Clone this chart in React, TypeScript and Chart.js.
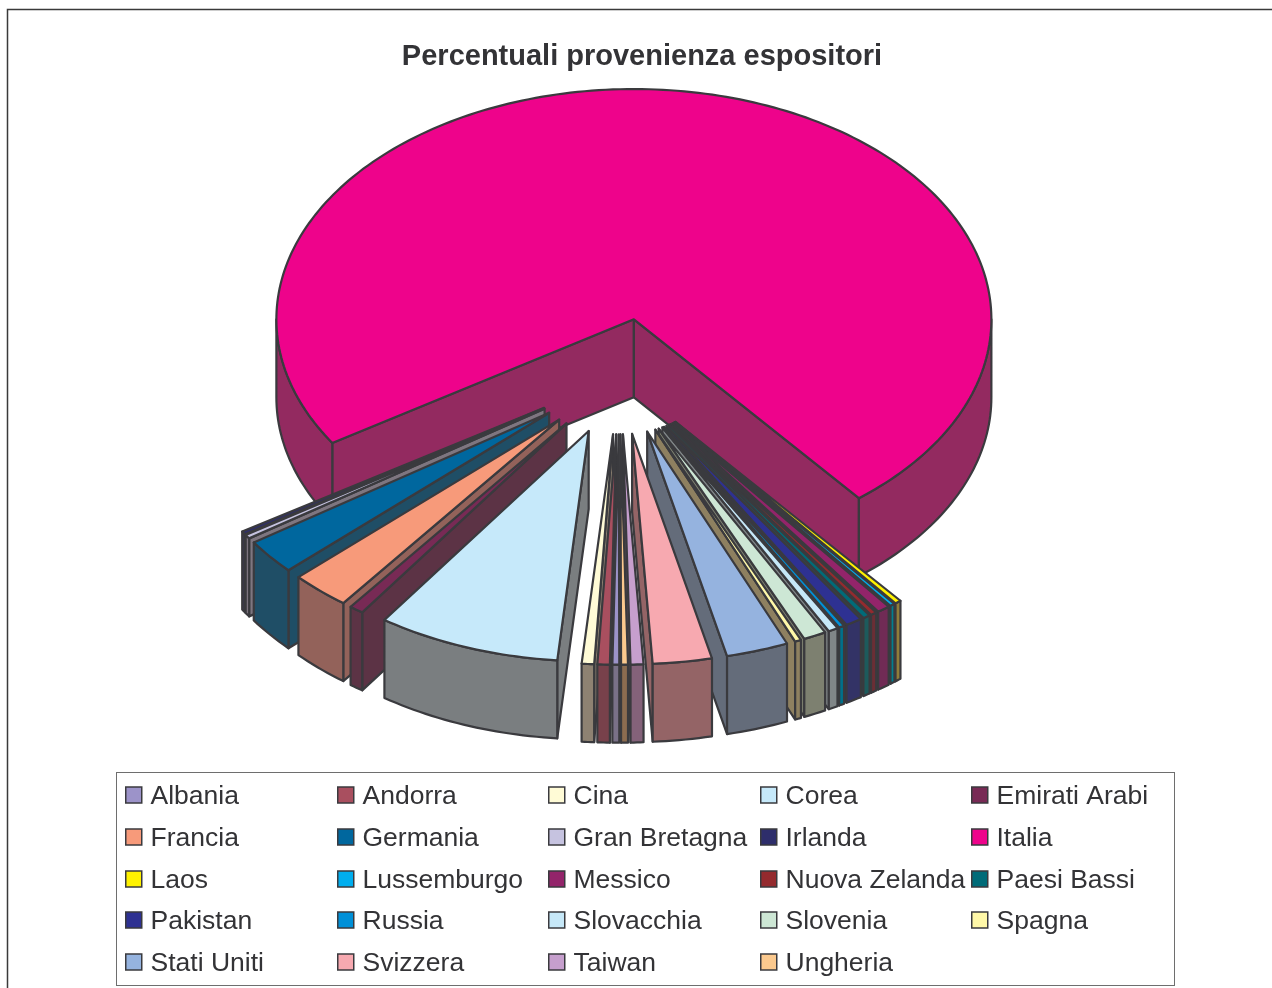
import React, { useEffect, useRef } from "react";
import { Chart, registerables } from "chart.js";

Chart.register(...registerables);

const categories = [
  "Albania", "Andorra", "Cina", "Corea", "Emirati Arabi",
  "Francia", "Germania", "Gran Bretagna", "Irlanda", "Italia",
  "Laos", "Lussemburgo", "Messico", "Nuova Zelanda", "Paesi Bassi",
  "Pakistan", "Russia", "Slovacchia", "Slovenia", "Spagna",
  "Stati Uniti", "Svizzera", "Taiwan", "Ungheria",
];

const percentages = [
  0.31, 0.56, 0.56, 8.28, 0.64,
  2.69, 2.47, 0.28, 0.22, 73.2,
  0.28, 0.22, 0.58, 0.28, 0.33,
  0.75, 0.25, 0.44, 1.03, 0.28,
  2.81, 2.67, 0.58, 0.31,
];

const topColours = [
  "#9C93C9", "#A94F5F", "#FFFBD6", "#C6E9FA", "#782A55",
  "#F79A7A", "#00679E", "#C6C3E0", "#2E2E6B", "#EE038B",
  "#FFF200", "#00AEEF", "#93246A", "#942A2E", "#006B78",
  "#2E3192", "#0090D8", "#C6E8F8", "#CDE7D5", "#FFF8A8",
  "#95B3DF", "#F7A9B0", "#C69FCD", "#FBC98E",
];

const wallColours = [
  "#7A7188", "#78414B", "#8E8272", "#7A7E80", "#5C3345",
  "#93625A", "#1F4E66", "#7E7680", "#3C3A55", "#932A60",
  "#8F7D3A", "#007F90", "#702B55", "#6B2E35", "#1D5B5C",
  "#333366", "#00708A", "#808688", "#7D8070", "#8E8060",
  "#646C7A", "#946466", "#84627A", "#8C6C50",
];

const titleText = "Percentuali provenienza espositori";

// Pie projection
const CX = 619.4;
const CY = 376.5;
const SQUASH = 0.644;
const EXPLODE = 90;
const DEPTH = 78;
const RADIUS = 357.5;
const EDGE = "#3A3A3E";

// Legend layout
const LEG = { x: 116.5, y: 772.5, w: 1058, h: 213 };
const LEG_COLS = [125, 337, 548, 760, 971];
const LEG_ROWS = [795, 837, 879, 920, 962];

type Pt = [number, number];

function poly(ctx: CanvasRenderingContext2D, pts: Pt[], fill: string) {
  ctx.beginPath();
  pts.forEach((p, i) => (i ? ctx.lineTo(p[0], p[1]) : ctx.moveTo(p[0], p[1])));
  ctx.closePath();
  ctx.fillStyle = fill;
  ctx.fill();
  ctx.stroke();
}

const pie3d = {
  id: "pie3d",
  beforeDatasetsDraw(chart: any) {
    const ctx: CanvasRenderingContext2D = chart.ctx;
    const arcs: any[] = chart.getDatasetMeta(0).data;
    const TAU = Math.PI * 2;
    const mid = (a: any) => (a.startAngle + a.endAngle) / 2;
    const dist = (a: any) => {
      const m = mid(a) % TAU;
      return Math.abs(Math.atan2(Math.sin(m), Math.cos(m)) - Math.PI / 2);
    };
    const order = arcs.map((a, i) => ({ a, i })).sort((p, q) => dist(q.a) - dist(p.a));

    ctx.save();
    ctx.strokeStyle = EDGE;
    ctx.lineWidth = 2.2;
    ctx.lineJoin = "round";
    for (const { a, i } of order) {
      const m = mid(a);
      const R = a.outerRadius;
      const tx = CX + EXPLODE * Math.cos(m);
      const ty = CY + SQUASH * EXPLODE * Math.sin(m);
      const P = (t: number, dy = 0): Pt => [tx + R * Math.cos(t), ty + SQUASH * R * Math.sin(t) + dy];
      const s = a.startAngle;
      const e = a.endAngle;
      const wall = wallColours[i];
      const arcPts = (lo: number, hi: number, dy = 0) => {
        const n = Math.max(4, Math.ceil((hi - lo) / 0.02));
        const out: Pt[] = [];
        for (let j = 0; j <= n; j++) out.push(P(lo + ((hi - lo) * j) / n, dy));
        return out;
      };
      // radial faces
      if (Math.cos(s) < 0) {
        poly(ctx, [[tx, ty], P(s), P(s, DEPTH), [tx, ty + DEPTH]], wall);
      }
      if (Math.cos(e) > 0) {
        poly(ctx, [[tx, ty], P(e), P(e, DEPTH), [tx, ty + DEPTH]], wall);
      }
      // outer rim
      for (let k = 0; k < 3; k++) {
        const lo = Math.max(s, TAU * k);
        const hi = Math.min(e, TAU * k + Math.PI);
        if (hi > lo) {
          poly(ctx, [...arcPts(lo, hi), ...arcPts(lo, hi, DEPTH).reverse()], wall);
        }
      }
      // top face, drawn by the arc element itself
      ctx.save();
      ctx.translate(tx, ty);
      ctx.scale(1, SQUASH);
      ctx.translate(-a.x, -a.y);
      a.draw(ctx, chart.chartArea);
      ctx.restore();
      ctx.beginPath();
      ctx.moveTo(tx, ty);
      arcPts(s, e).forEach((p) => ctx.lineTo(p[0], p[1]));
      ctx.closePath();
      ctx.stroke();
    }
    ctx.restore();
    return false;
  },
};

const frameAndLegend = {
  id: "frameAndLegend",
  afterDraw(chart: any) {
    const ctx: CanvasRenderingContext2D = chart.ctx;
    ctx.save();
    // chart frame
    ctx.strokeStyle = "#3A3A3A";
    ctx.lineWidth = 1.5;
    ctx.beginPath();
    ctx.moveTo(7.5, 988);
    ctx.lineTo(7.5, 9.5);
    ctx.lineTo(1272, 9.5);
    ctx.stroke();
    // legend box
    ctx.strokeStyle = "#6E6E6E";
    ctx.lineWidth = 1;
    ctx.strokeRect(LEG.x, LEG.y, LEG.w, LEG.h);
    // legend entries
    ctx.font = "26.5px 'Liberation Sans'";
    ctx.textBaseline = "middle";
    ctx.textAlign = "left";
    const labels: string[] = chart.data.labels;
    const bg: string[] = chart.data.datasets[0].backgroundColor;
    labels.forEach((label, i) => {
      const x = LEG_COLS[i % 5];
      const y = LEG_ROWS[Math.floor(i / 5)];
      ctx.fillStyle = bg[i];
      ctx.strokeStyle = EDGE;
      ctx.lineWidth = 1.5;
      ctx.fillRect(x + 0.75, y - 8, 16, 16);
      ctx.strokeRect(x + 0.75, y - 8, 16, 16);
      ctx.fillStyle = "#333336";
      ctx.fillText(label, x + 25.5, y + 2);
    });
    ctx.restore();
  },
};

export default function App() {
  const ref = useRef<HTMLCanvasElement>(null);
  useEffect(() => {
    const chart = new Chart(ref.current as HTMLCanvasElement, {
      type: "pie",
      data: {
        labels: categories,
        datasets: [
          {
            data: percentages,
            backgroundColor: topColours,
            borderWidth: 0,
            offset: 0,
          },
        ],
      },
      options: {
        animation: false,
        responsive: false,
        events: [],
        rotation: 179.9,
        radius: RADIUS,
        layout: { padding: { left: 12, top: 40 } },
        plugins: {
          legend: { display: false },
          tooltip: { enabled: false },
          title: {
            display: true,
            text: titleText,
            color: "#333336",
            font: { family: "'Liberation Sans'", size: 29, weight: "bold" },
            padding: { top: 0, bottom: 0 },
          },
        },
      } as any,
      plugins: [pie3d, frameAndLegend],
    });
    return () => chart.destroy();
  }, []);
  return (
    <div style={{ position: "fixed", left: 0, top: 0, width: 1272, height: 988, overflow: "hidden", background: "#fff" }}>
      <canvas ref={ref} width={1272} height={988} style={{ display: "block" }} />
    </div>
  );
}
